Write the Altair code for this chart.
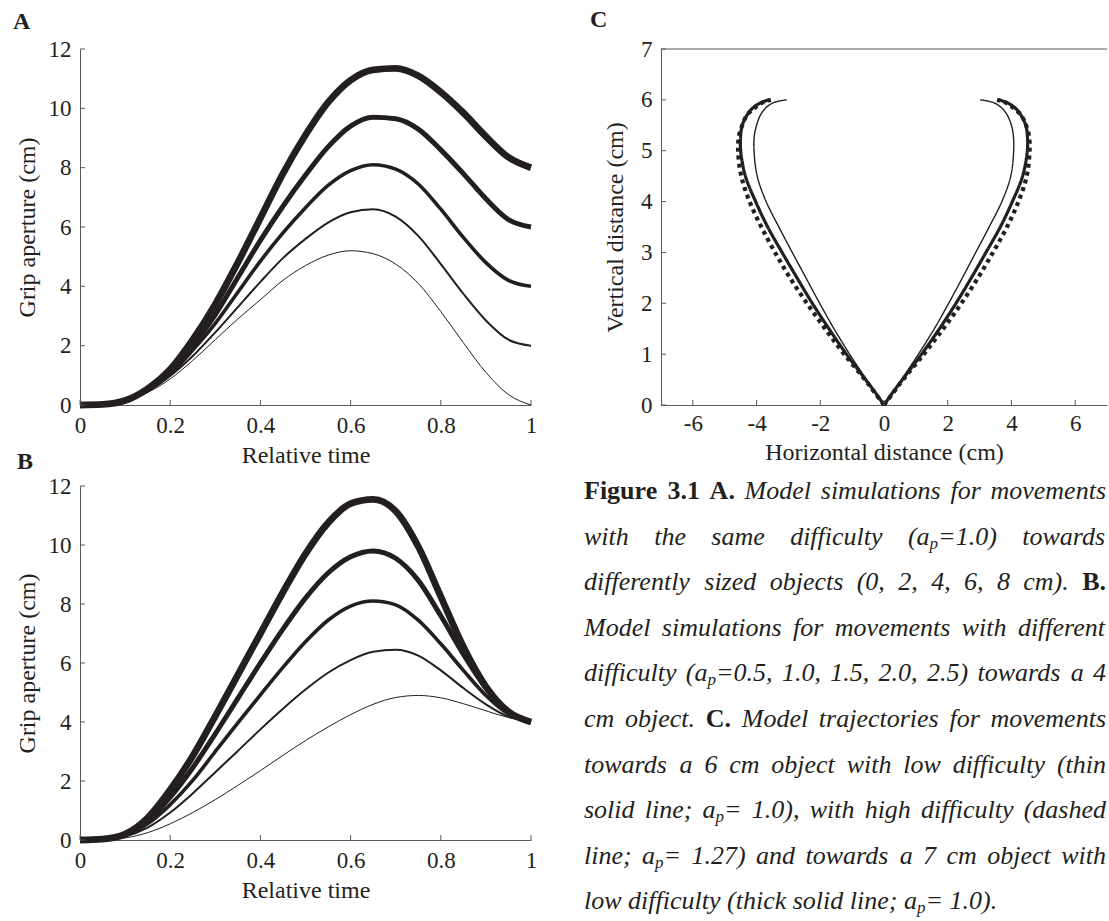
import altair as alt
import pandas as pd

FONT = "Liberation Serif"
INK = "#231f20"
AXC = "#58595b"

# ---------------- Panel A : same difficulty, object sizes 0..8 cm ----------------
time = [0, .05, .1, .15, .2, .25, .3, .35, .4, .45, .5, .55, .6, .65, .7, .75, .8, .85, .9, .95, 1]
a_names = ["0 cm", "2 cm", "4 cm", "6 cm", "8 cm"]
a_obj0 = [0, 0.02, 0.12, 0.42, 0.88, 1.5, 2.2, 2.9, 3.55, 4.2, 4.7, 5.05, 5.2, 5.1, 4.75, 4.1, 3.15, 2.1, 1.1, 0.35, 0]
a_obj2 = [0, 0.02, 0.13, 0.46, 0.98, 1.65, 2.45, 3.3, 4.15, 4.95, 5.6, 6.15, 6.5, 6.6, 6.35, 5.7, 4.75, 3.75, 2.85, 2.2, 2.0]
a_obj4 = [0, 0.02, 0.14, 0.5, 1.05, 1.85, 2.75, 3.8, 4.85, 5.8, 6.65, 7.4, 7.9, 8.1, 7.95, 7.45, 6.6, 5.65, 4.8, 4.2, 4.0]
a_obj6 = [0, 0.02, 0.15, 0.52, 1.1, 2.0, 3.05, 4.3, 5.55, 6.7, 7.75, 8.7, 9.4, 9.7, 9.65, 9.3, 8.6, 7.8, 6.95, 6.25, 6.0]
a_obj8 = [0, 0.02, 0.15, 0.55, 1.2, 2.2, 3.4, 4.8, 6.3, 7.8, 9.1, 10.2, 10.95, 11.3, 11.35, 11.1, 10.55, 9.85, 9.05, 8.35, 8.0]

# ---------------- Panel B : 4 cm object, difficulty a_p 0.5..2.5 ----------------
b_names = ["0.5", "1.0", "1.5", "2.0", "2.5"]
b_ap05 = [0, 0.01, 0.07, 0.25, 0.55, 0.93, 1.37, 1.85, 2.35, 2.87, 3.37, 3.83, 4.25, 4.6, 4.83, 4.9, 4.82, 4.62, 4.38, 4.15, 4.0]
b_ap10 = [0, 0.02, 0.12, 0.42, 0.93, 1.58, 2.3, 3.02, 3.75, 4.45, 5.1, 5.67, 6.1, 6.38, 6.45, 6.25, 5.75, 5.15, 4.6, 4.18, 4.0]
b_ap15 = [0, 0.02, 0.15, 0.55, 1.2, 2.02, 3.0, 3.97, 4.92, 5.85, 6.72, 7.45, 7.93, 8.1, 7.97, 7.45, 6.65, 5.75, 4.9, 4.27, 4.0]
b_ap20 = [0, 0.03, 0.18, 0.65, 1.45, 2.45, 3.6, 4.8, 6.0, 7.15, 8.2, 9.05, 9.6, 9.8, 9.55, 8.8, 7.6, 6.3, 5.15, 4.35, 4.0]
b_ap25 = [0, 0.03, 0.2, 0.75, 1.7, 2.85, 4.2, 5.6, 7.0, 8.4, 9.7, 10.75, 11.4, 11.55, 11.15, 9.95, 8.25, 6.55, 5.2, 4.35, 4.0]

grip_xticks = [0, 0.2, 0.4, 0.6, 0.8, 1]
grip_yticks = [0, 2, 4, 6, 8, 10, 12]

# ---------------- Panel C : finger / thumb trajectories ----------------
c_y = [0, 0.25, 0.5, 1, 1.5, 2, 2.5, 3, 3.5, 4, 4.5, 5, 5.3, 5.5, 5.7, 5.85, 5.95, 6.0]
c_thin_left = [0, -0.27, -0.55, -1.08, -1.57, -2.02, -2.45, -2.88, -3.3, -3.7, -3.98, -4.08, -4.07, -4.0, -3.88, -3.7, -3.45, -3.05]
c_thin_right = [0, 0.27, 0.55, 1.08, 1.58, 2.03, 2.46, 2.88, 3.3, 3.7, 3.98, 4.07, 4.06, 4.0, 3.87, 3.68, 3.42, 3.02]
c_thick_left = [0, -0.28, -0.58, -1.18, -1.73, -2.25, -2.73, -3.2, -3.65, -4.03, -4.35, -4.5, -4.5, -4.45, -4.3, -4.1, -3.85, -3.6]
c_thick_right = [0, 0.28, 0.58, 1.18, 1.74, 2.26, 2.74, 3.2, 3.65, 4.03, 4.35, 4.5, 4.5, 4.45, 4.3, 4.1, 3.85, 3.6]
c_dash_left = [0, -0.3, -0.6, -1.25, -1.85, -2.42, -2.95, -3.42, -3.85, -4.22, -4.48, -4.58, -4.55, -4.45, -4.3, -4.05, -3.8, -3.55]
c_dash_right = [0, 0.3, 0.6, 1.25, 1.86, 2.43, 2.95, 3.42, 3.86, 4.22, 4.48, 4.57, 4.55, 4.46, 4.3, 4.05, 3.8, 3.55]
c_xticks = [-6, -4, -2, 0, 2, 4, 6]
c_yticks = [0, 1, 2, 3, 4, 5, 6, 7]

# ---------------- Caption ----------------
caption_lines = [
    "*Figure *3.1 *A. Model simulations for movements",
    "with the same difficulty (a_p=1.0) towards",
    "differently sized objects (0, 2, 4, 6, 8 cm). *B.",
    "Model simulations for movements with different",
    "difficulty (a_p=0.5, 1.0, 1.5, 2.0, 2.5) towards a 4",
    "cm object. *C. Model trajectories for movements",
    "towards a 6 cm object with low difficulty (thin",
    "solid line; a_p= 1.0), with high difficulty (dashed",
    "line; a_p= 1.27) and towards a 7 cm object with",
    "low difficulty (thick solid line; a_p= 1.0).",
]

# ======================================================================
GRIP_W = 451
A_H = 356
B_H = 354
C_W = 446
C_H = 356
LINE_WIDTHS = [1.0, 2.0, 3.6, 5.0, 6.8]
AX_STYLE = dict(labelFont=FONT, titleFont=FONT, labelFontSize=23, titleFontSize=24,
                labelColor=INK, titleColor=INK, titleFontWeight="normal",
                domainColor=AXC, ticks=False, grid=False, labelOverlap=False)


def grip_panel(names, arrays, letter, H, dx, toff):
    xenc = alt.X("t:Q", scale=alt.Scale(domain=[0, 1], nice=False, zero=False),
                 axis=alt.Axis(values=grip_xticks, format="~g", title="Relative time",
                               labelPadding=9, titlePadding=6, labelFlush=False, **AX_STYLE))
    yenc = alt.Y("g:Q", scale=alt.Scale(domain=[0, 12], nice=False),
                 axis=alt.Axis(values=grip_yticks, format="d", title="Grip aperture (cm)",
                               labelPadding=9, titlePadding=9, **AX_STYLE))
    layers = []
    for n, arr, w in zip(names, arrays, LINE_WIDTHS):
        df = pd.DataFrame({"t": time, "g": arr, "series": n})
        layers.append(alt.Chart(df).mark_line(interpolate="monotone", color=INK, strokeWidth=w).encode(
            x=xenc, y=yenc))
    xt = alt.Chart(pd.DataFrame({"t": grip_xticks})).mark_rule(color=AXC, strokeWidth=1).encode(
        x=xenc, y=alt.value(H), y2=alt.value(H - 5))
    yt = alt.Chart(pd.DataFrame({"g": grip_yticks})).mark_rule(color=AXC, strokeWidth=1).encode(
        y=yenc, x=alt.value(0), x2=alt.value(5))
    return alt.layer(*layers, xt, yt).properties(
        width=GRIP_W, height=H,
        title=alt.TitleParams(letter, anchor="start", frame="group", dx=dx, offset=toff,
                              font=FONT, fontSize=24, fontWeight="bold", color=INK),
    )


A = grip_panel(a_names, [a_obj0, a_obj2, a_obj4, a_obj6, a_obj8], "A", A_H, -67, 4)
B = grip_panel(b_names, [b_ap05, b_ap10, b_ap15, b_ap20, b_ap25], "B", B_H, -63, 1)

# ---- panel C ----
cx = alt.X("x:Q", scale=alt.Scale(domain=[-7, 7], nice=False, zero=False),
           axis=alt.Axis(values=c_xticks, title="Horizontal distance (cm)",
                         labelPadding=7, titlePadding=5, labelFlush=False,
                         labelExpr="datum.value < 0 ? '-' + abs(datum.value) : '' + datum.value",
                         **AX_STYLE))
cy = alt.Y("y:Q", scale=alt.Scale(domain=[0, 7], nice=False, zero=False),
           axis=alt.Axis(values=c_yticks, format="d", title="Vertical distance (cm)",
                         labelPadding=9, titlePadding=13, **AX_STYLE))

c_layers = []
for xs, w, dash in [(c_dash_left, 4.2, [4, 4]), (c_dash_right, 4.2, [4, 4]),
                    (c_thick_left, 3.2, [1, 0]), (c_thick_right, 3.2, [1, 0]),
                    (c_thin_left, 1.4, [1, 0]), (c_thin_right, 1.4, [1, 0])]:
    df = pd.DataFrame({"x": xs, "y": c_y, "i": list(range(len(c_y)))})
    c_layers.append(alt.Chart(df).mark_line(interpolate="catmull-rom", color=INK, strokeWidth=w,
                                            strokeDash=dash).encode(x=cx, y=cy, order="i:Q"))
c_xt = alt.Chart(pd.DataFrame({"x": c_xticks})).mark_rule(color=AXC).encode(
    x=cx, y=alt.value(C_H), y2=alt.value(C_H - 5))
c_yt = alt.Chart(pd.DataFrame({"y": c_yticks})).mark_rule(color=AXC).encode(
    y=cy, x=alt.value(0), x2=alt.value(5))
c_top = alt.Chart(pd.DataFrame({"a": [0]})).mark_rule(color=AXC).encode(
    x=alt.value(0), x2=alt.value(C_W), y=alt.value(0))
C = alt.layer(*c_layers, c_xt, c_yt, c_top).properties(
    width=C_W, height=C_H,
    title=alt.TitleParams("C", anchor="start", frame="group", dx=-71, offset=6,
                          font=FONT, fontSize=24, fontWeight="bold", color=INK),
)

# ---- caption (justified text, laid out from the word lists) ----
CAP_FS = 26
SUB_FS = 17
W_IT = {' ': .25, '(': .333, ')': .333, ',': .25, '.': .25, ';': .333, '=': .675, '-': .333,
        'a': .5, 'b': .5, 'c': .444, 'd': .5, 'e': .444, 'f': .278, 'g': .5, 'h': .5, 'i': .278,
        'j': .278, 'k': .444, 'l': .278, 'm': .722, 'n': .5, 'o': .5, 'p': .5, 'q': .5, 'r': .389,
        's': .389, 't': .278, 'u': .5, 'v': .444, 'w': .667, 'x': .444, 'y': .444, 'z': .389,
        'M': .833, 'C': .667}
W_B = {'F': .611, 'i': .278, 'g': .5, 'u': .556, 'r': .444, 'e': .444, 'A': .722, 'B': .667,
       'C': .722, '.': .25, ' ': .25}


def seg_w(text, style):
    if style == "sub":
        return sum(W_IT.get(ch, .5) for ch in text) * SUB_FS
    table = W_B if style == "b" else W_IT
    return sum(table.get(ch, .5) for ch in text) * CAP_FS


def parse_word(word):
    if word.startswith("*"):
        return [(word[1:], "b")]
    if "_p" in word:
        pre, post = word.split("_p", 1)
        segs = [(pre, "i"), ("p", "sub")]
        if post:
            segs.append((post, "i"))
        return segs
    return [(word, "i")]


CAP_X0 = -77      # relative to the caption cell
CAP_X1 = 445
CAP_Y0 = 13
CAP_DY = 45.6
cap_rows = []
for k, line in enumerate(caption_lines):
    words = [parse_word(w) for w in line.split(" ")]
    widths = [sum(seg_w(t, s) for t, s in w) for w in words]
    justified = k < len(caption_lines) - 1
    gap = (CAP_X1 - CAP_X0 - sum(widths)) / (len(words) - 1) if justified else 0.25 * CAP_FS
    xpos = CAP_X0
    for w, wd in zip(words, widths):
        sx = xpos
        for t, s in w:
            cap_rows.append({"text": t, "style": s, "px": sx, "py": CAP_Y0 + CAP_DY * k})
            sx += seg_w(t, s)
        xpos += wd + gap
cap_df = pd.DataFrame(cap_rows)

cap_base = alt.Chart(cap_df).encode(
    x=alt.X("px:Q", scale=None, axis=None),
    y=alt.Y("py:Q", scale=None, axis=None),
    text="text:N",
)
cap_i = cap_base.transform_filter(alt.datum.style == "i").mark_text(
    align="left", baseline="alphabetic", font=FONT, fontSize=CAP_FS, fontStyle="italic", color=INK)
cap_b = cap_base.transform_filter(alt.datum.style == "b").mark_text(
    align="left", baseline="alphabetic", font=FONT, fontSize=CAP_FS, fontWeight="bold", color=INK)
cap_s = cap_base.transform_filter(alt.datum.style == "sub").mark_text(
    align="left", baseline="alphabetic", font=FONT, fontSize=SUB_FS, fontStyle="italic", dy=4, color=INK)
CAP = alt.layer(cap_i, cap_b, cap_s).properties(width=C_W, height=B_H)

chart = alt.concat(
    A, C, B, CAP, columns=2, spacing={"row": 81, "column": 130}, bounds="flush"
).properties(
    padding={"left": 13, "top": 8, "right": 0, "bottom": 0}
).configure(font=FONT).configure_view(stroke=None).configure_axis(
    labelFont=FONT, titleFont=FONT, labelColor=INK, titleColor=INK,
    labelFontSize=23, titleFontSize=24, titleFontWeight="normal",
    domainColor=AXC, domainWidth=1, grid=False,
).configure_title(
    font=FONT, fontSize=24, fontWeight="bold", color=INK,
)

chart.save("out.html", embed_options={"renderer": "svg", "actions": False})
